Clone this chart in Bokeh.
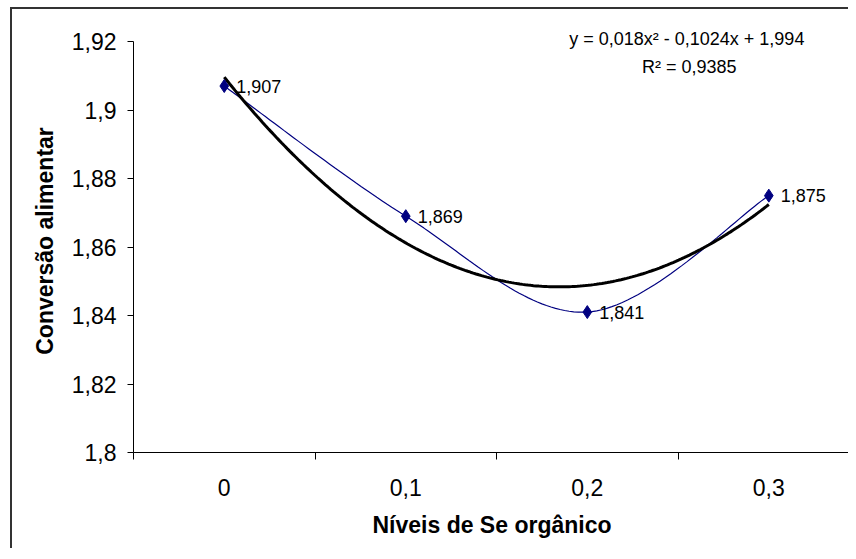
import numpy as np
from bokeh.plotting import figure
from bokeh.models import FixedTicker, Range1d, Label, ColumnDataSource
from bokeh.core.properties import value
from bokeh.embed import file_html
from bokeh.resources import INLINE

# ---- data ----
categories = ["0", "0,1", "0,2", "0,3"]
conversion = [1.907, 1.869, 1.841, 1.875]
point_labels = ["1,907", "1,869", "1,841", "1,875"]
trend_coef = [0.018, -0.1024, 1.994]          # y = a x^2 + b x + c (x = category index 1..4)
equation_text = "y = 0,018x² - 0,1024x +  1,994"
r2_text = "R² = 0,9385"
y_ticks = [1.80, 1.82, 1.84, 1.86, 1.88, 1.90, 1.92]
y_tick_labels = ["1,8", "1,82", "1,84", "1,86", "1,88", "1,9", "1,92"]
x_title = "Níveis de Se orgânico"
y_title = "Conversão alimentar"

FONT = "Liberation Sans"
NAVY = "#000080"

xpos = list(range(1, len(categories) + 1))

p = figure(width=838, height=541,
           x_range=Range1d(0.5, 4.45), y_range=Range1d(1.8, 1.92351),
           output_backend="svg", toolbar_location=None,
           min_border_left=121, min_border_right=0,
           min_border_top=20, min_border_bottom=98)
p.styles = {"border-top": "2px solid #333333", "border-left": "2px solid #333333",
            "margin-left": "10px", "margin-top": "7px"}
p.outline_line_color = None
p.xgrid.visible = False
p.ygrid.visible = False
p.background_fill_color = "white"
p.border_fill_color = "white"

# ---- y axis ----
ya = p.yaxis[0]
ya.ticker = FixedTicker(ticks=y_ticks, minor_ticks=[])
ya.bounds = (y_ticks[0], y_ticks[-1])
ya.major_label_overrides = {t: l for t, l in zip(y_ticks, y_tick_labels)}
ya.major_tick_out = 6
ya.major_tick_in = 0
ya.minor_tick_out = 0
ya.minor_tick_in = 0
ya.axis_line_color = "black"
ya.major_tick_line_color = "black"
ya.major_label_text_font = FONT
ya.major_label_text_font_size = "23px"
ya.major_label_text_color = "black"
ya.major_label_standoff = 11
ya.axis_label = y_title
ya.axis_label_text_font = FONT
ya.axis_label_text_font_size = "23px"
ya.axis_label_text_font_style = "bold"
ya.axis_label_text_color = "black"
ya.axis_label_standoff = 11

# ---- x axis ----
xa = p.xaxis[0]
xa.ticker = FixedTicker(ticks=xpos, minor_ticks=[x - 0.5 for x in xpos])
xa.major_label_overrides = {x: c for x, c in zip(xpos, categories)}
xa.major_tick_out = 0
xa.major_tick_in = 0
xa.minor_tick_out = 7
xa.minor_tick_in = 0
xa.minor_tick_line_color = "black"
xa.axis_line_color = "black"
xa.major_label_text_font = FONT
xa.major_label_text_font_size = "23px"
xa.major_label_text_color = "black"
xa.major_label_standoff = 19
xa.axis_label = x_title
xa.axis_label_text_font = FONT
xa.axis_label_text_font_size = "23px"
xa.axis_label_text_font_style = "bold"
xa.axis_label_text_color = "black"
xa.axis_label_standoff = 13

# ---- smoothed series line (Excel-style Bezier smoothing in pixel space) ----
sx = 181.5
sy = 410 / 0.12
P = np.array([[x * sx, v * sy] for x, v in zip(xpos, conversion)])
n = len(P)
curve = []
for i in range(n - 1):
    p0 = P[i - 1] if i > 0 else P[i]
    p1 = P[i]
    p2 = P[i + 1]
    p3 = P[i + 2] if i + 2 < n else P[i + 1]
    c1 = p1 + (p2 - p0) / 6.0
    c2 = p2 - (p3 - p1) / 6.0
    for t in np.linspace(0, 1, 40, endpoint=(i == n - 2)):
        b = ((1 - t) ** 3) * p1 + 3 * ((1 - t) ** 2) * t * c1 + 3 * (1 - t) * t * t * c2 + t ** 3 * p2
        curve.append(b)
curve = np.array(curve)
p.line(curve[:, 0] / sx, curve[:, 1] / sy, line_color=NAVY, line_width=1.2)

# ---- polynomial trend line ----
tx = np.linspace(xpos[0], xpos[-1], 200)
ty = trend_coef[0] * tx ** 2 + trend_coef[1] * tx + trend_coef[2]
p.line(tx, ty, line_color="black", line_width=3)

# ---- markers and data labels ----
src = ColumnDataSource(dict(x=xpos, y=conversion, lab=point_labels))
p.scatter("x", "y", source=src, marker="diamond", size=13,
          fill_color=NAVY, line_color=NAVY)
p.text("x", "y", text="lab", source=src, x_offset=12, text_baseline="middle",
       text_align="left", text_font=value(FONT), text_font_size="18px",
       text_color="black")

# ---- equation ----
p.add_layout(Label(x=3.562, y=1.9206, text=equation_text, text_align="center",
                   text_baseline="middle", text_font=FONT,
                   text_font_size="18px", text_color="black"))
p.add_layout(Label(x=3.562, y=1.9127, text=r2_text, text_align="center",
                   text_baseline="middle", text_font=FONT,
                   text_font_size="18px", text_color="black"))

open("out.html", "w").write(file_html(p, INLINE))
